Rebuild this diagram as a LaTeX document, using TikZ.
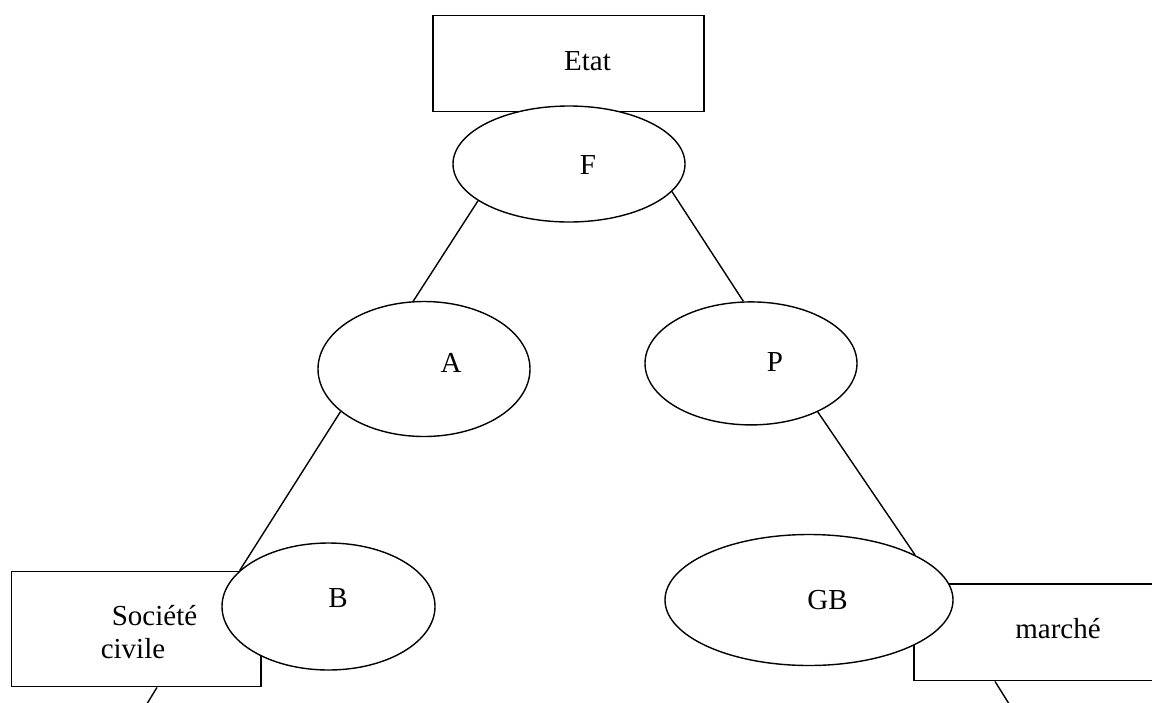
\documentclass[tikz,border=0pt]{standalone}
\usepackage{fontspec}
\setmainfont{Liberation Serif}
\usetikzlibrary{shapes.geometric}
\begin{document}
\begin{tikzpicture}[x=1pt,y=-1pt,
  box/.style={draw,line width=1.4pt,fill=white,minimum width=#1,inner sep=0pt,rectangle},
  oval/.style={draw,line width=1.4pt,fill=white,ellipse,inner sep=0pt},
  lbl/.style={inner sep=0pt,anchor=base,font=\fontsize{29}{34}\selectfont},
  link/.style={line width=1.4pt}]
\useasboundingbox (0,0) rectangle (1152,702);
% rectangles
\node[box=271pt,minimum height=96pt] (etat) at (568.5,63.7) {};
\node[box=249.3pt,minimum height=115pt] (soc) at (136.35,629.2) {};
\node[box=246pt,minimum height=96.7pt] (mar) at (1037,632.35) {};
% ellipses
\node[oval,minimum width=232pt,minimum height=116pt] (F) at (569,164) {};
\node[oval,minimum width=212pt,minimum height=135pt] (A) at (424,369) {};
\node[oval,minimum width=212pt,minimum height=123pt] (P) at (751,363.4) {};
\node[oval,minimum width=213pt,minimum height=127pt] (B) at (328.5,606.5) {};
\node[oval,minimum width=288pt,minimum height=131pt] (GB) at (809,600) {};
% texts
\node[lbl] (tetat) at (587.5,70) {Etat};
\node[lbl] (tF) at (588,174) {F};
\node[lbl] (tA) at (451,372.7) {A};
\node[lbl] (tP) at (775,371) {P};
\node[lbl] (tB) at (338,607) {B};
\node[lbl] (tGB) at (827.5,609.3) {GB};
\node[lbl] (tsoc1) at (154.5,625) {Société};
\node[lbl] (tsoc2) at (133,658.3) {civile};
\node[lbl] (tmar) at (1058,638.3) {marché};
% connectors
\draw[link] (F.202.6) -- (A.99.3);
\draw[link] (F.-15.5) -- (P.97.4);
\draw[link] (A.207.1) -- (B.158.7);
\draw[link] (P.-36.4) -- (GB.23.7);
\coordinate (sEnd) at (145,707);
\coordinate (mEnd) at (1011,707);
\draw[link] ([xshift=20.65pt]soc.south) -- (sEnd);
\draw[link] ([xshift=-42pt]mar.south) -- (mEnd);
\end{tikzpicture}
\end{document}
